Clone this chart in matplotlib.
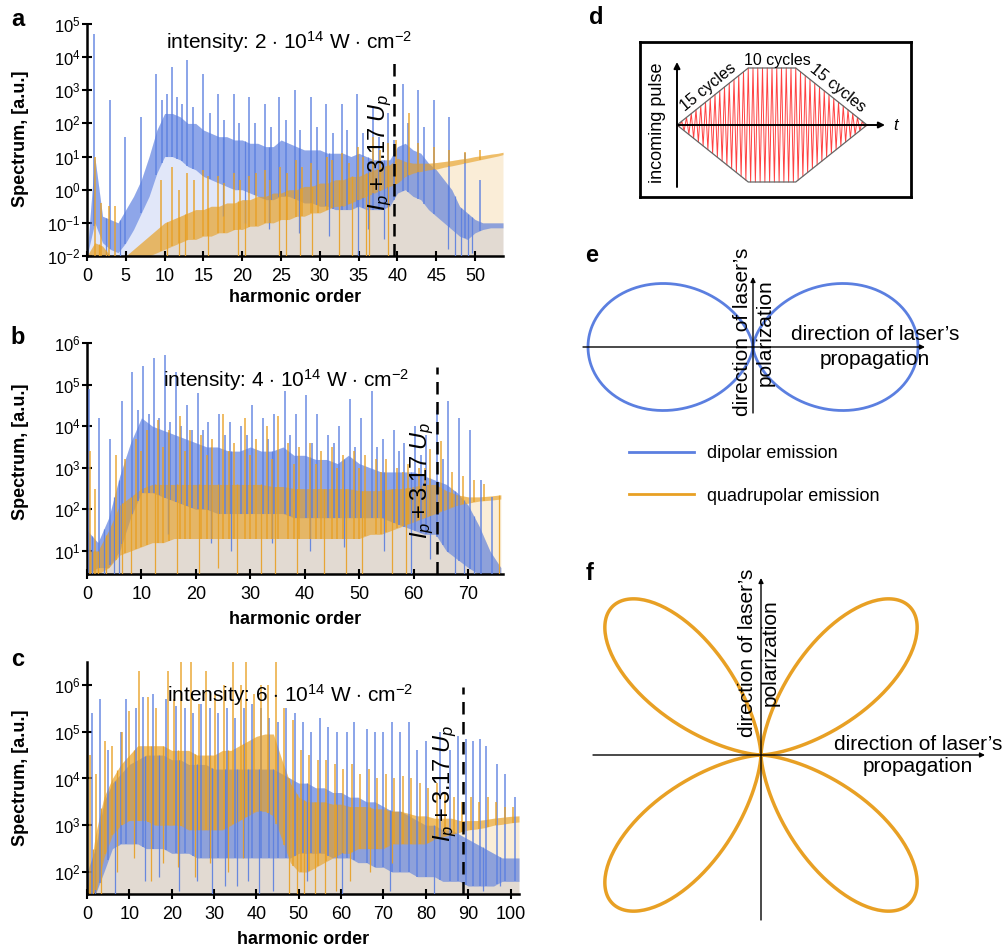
import numpy as np
import matplotlib
matplotlib.use('Agg')
import matplotlib.pyplot as plt
from matplotlib.ticker import FixedLocator, NullLocator, LogFormatterSciNotation
from matplotlib.lines import Line2D

plt.rcParams['font.family'] = ['Liberation Sans', 'DejaVu Sans']
plt.rcParams['mathtext.fontset'] = 'custom'
plt.rcParams['mathtext.rm'] = 'Liberation Sans'
plt.rcParams['mathtext.it'] = 'Liberation Sans:italic'
plt.rcParams['mathtext.bf'] = 'Liberation Sans:bold'

BLUE = '#5b7fe0'
ORANGE = '#e8a024'

# ---------------- DATA (log10 of spectrum) ----------------
# Panel a: 2e14 W/cm^2, harmonic grid step 1
a_orders = list(range(0, 54)) + [53.6]
a_blue_top = [-2.0, 1.0, -0.8, -0.9, -1.0, -0.6, -0.2, 0.3, 1.0, 1.8,
              2.3, 2.3, 2.2, 2.0, 2.0, 1.8, 1.7, 1.6, 1.6, 1.5,
              1.5, 1.4, 1.4, 1.3, 1.3, 1.5, 1.4, 1.3, 1.2, 1.2,
              1.2, 1.1, 1.1, 1.1, 1.0, 1.1, 1.0, 0.9, 0.9, 0.9,
              1.3, 1.4, 1.2, 1.1, 0.8, 0.6, 0.3, 0.0, -0.5, -0.7,
              -0.9, -1.0, -1.0, -1.0, -1.0]
a_blue_bot = [-2.0, -1.0, -1.6, -1.8, -1.9, -1.6, -1.2, -0.7, -0.2, 0.5,
              1.0, 1.0, 0.9, 0.7, 0.6, 0.4, 0.3, 0.2, 0.1, 0.0,
              0.0, -0.1, -0.2, -0.3, -0.3, -0.2, -0.2, -0.3, -0.4, -0.4,
              -0.5, -0.5, -0.6, -0.6, -0.6, -0.5, -0.6, -0.6, -0.6, -0.5,
              -0.1, 0.0, -0.2, -0.3, -0.6, -0.8, -1.0, -1.2, -1.4, -1.5,
              -1.3, -1.2, -1.15, -1.15, -1.15]
a_blue_peak_h = [0.9, 3.0, 4.9, 7.0, 8.9, 10.9, 12.9, 14.9, 16.9, 18.9, 20.9, 22.9,
                 24.8, 26.8, 28.8, 30.8, 32.8, 34.8, 36.8, 38.8, 40.7, 42.7, 44.7,
                 46.7, 48.7, 50.6,
                 9.6, 10.3, 11.6, 12.2, 13.6, 15.8, 17.7, 19.6, 21.6, 23.7, 25.6,
                 27.5, 29.6, 31.7, 33.5, 35.6, 37.6, 39.5, 41.4, 43.4]
a_blue_peak_v = [4.7, 2.7, 1.6, 2.2, 3.5, 3.7, 3.9, 3.5, 2.9, 2.9, 2.8, 2.6,
                 2.8, 3.0, 2.8, 2.6, 2.6, 2.9, 2.5, 2.3, 3.2, 3.0, 2.7,
                 2.2, 1.1, 0.3,
                 2.7, 2.9, 2.8, 2.6, 2.5, 2.3, 2.1, 2.0, 2.0, 1.9, 2.1,
                 1.8, 1.9, 1.7, 1.8, 1.7, 1.6, 1.5, 2.0, 1.9]
a_blue_dip_h = [2.5, 4.2, 17.5, 20.4, 23.5, 27.3, 31.2, 34.9, 36.2, 38.3, 46.5,
                47.4, 48.2, 49.1, 49.6]
a_blue_dip_v = [-2.0, -2.0, -0.8, -1.0, -1.2, -1.3, -1.4, -2.0, -1.2, -1.5, -1.8,
                -2.0, -2.0, -2.0, -1.9]
a_orng_top = [-2.0, -1.6, -1.7, -2.0, -2.0, -2.0, -1.8, -1.6, -1.4, -1.2,
              -1.0, -0.9, -0.8, -0.7, -0.6, -0.6, -0.5, -0.5, -0.4, -0.4,
              -0.3, -0.3, -0.2, -0.2, -0.1, -0.1, 0.0, 0.0, 0.1, 0.1,
              0.2, 0.2, 0.3, 0.3, 0.4, 0.4, 0.5, 0.6, 0.7, 0.75,
              0.95, 0.85, 0.8, 0.8, 0.8, 0.82, 0.85, 0.88, 0.92, 0.95,
              1.0, 1.03, 1.07, 1.1, 1.13]
a_orng_bot = [-2.0, -2.0, -2.0, -2.0, -2.0, -2.0, -2.0, -2.0, -2.0, -1.9,
              -1.8, -1.7, -1.6, -1.5, -1.5, -1.4, -1.4, -1.3, -1.3, -1.2,
              -1.2, -1.1, -1.1, -1.0, -1.0, -0.9, -0.9, -0.8, -0.8, -0.7,
              -0.7, -0.6, -0.5, -0.5, -0.4, -0.3, -0.2, -0.1, 0.0, 0.1,
              0.2, 0.4, 0.5, 0.55, 0.6, 0.62, 0.68, 0.72, 0.77, 0.82,
              0.87, 0.92, 0.97, 1.02, 1.06]
a_orng_peak_h = [1.0, 1.8, 2.8, 3.6, 9.5, 10.9, 12.9, 14.9, 16.9, 18.9, 20.9, 22.9,
                 24.9, 26.9, 28.9, 30.9, 32.9, 34.9, 36.9, 38.8, 41.5, 42.7, 44.7,
                 46.7, 48.7, 50.7,
                 11.8, 13.8, 15.6, 17.6, 19.7, 21.8, 23.6, 25.8, 27.7, 29.8, 31.6,
                 33.8, 35.6, 37.7, 39.8]
a_orng_peak_v = [1.0, -0.4, -0.5, -0.5, 0.3, 0.7, 0.5, 0.6, 0.4, 0.5, 0.4, 0.6,
                 0.7, 0.9, 0.8, 1.0, 1.1, 1.3, 1.6, 1.4, 2.3, 1.4, 1.3,
                 1.2, 1.15, 1.2,
                 0.0, 0.3, 0.4, 0.2, 0.3, 0.5, 0.3, 0.5, 0.7, 0.6, 0.9,
                 0.8, 1.0, 1.2, 1.5]
a_orng_dip_h = [1.5, 2.4, 3.2, 10.3, 11.8, 12.6, 15.6, 19.5, 20.3, 24.8, 25.6,
                27.4, 29.0, 32.5, 34.2, 36.0, 36.3, 38.8]
a_orng_dip_v = [-2.0, -2.0, -2.0, -2.0, -2.0, -2.0, -2.0, -2.0, -2.0, -2.0, -2.0,
                -2.0, -2.0, -2.0, -2.0, -2.0, -2.0, -2.0]

# Panel b: 4e14 W/cm^2, harmonic grid step 2
b_orders = list(range(0, 77, 2))
b_blue_top = [1.5, 1.2, 1.8, 2.8, 3.6, 4.2, 4.0, 3.9, 3.8, 3.7,
              3.6, 3.5, 3.5, 3.4, 3.4, 3.5, 3.4, 3.4, 3.5, 3.3,
              3.3, 3.2, 3.2, 3.1, 3.3, 3.1, 3.0, 2.9, 2.9, 2.9,
              2.9, 2.8, 2.7, 2.6, 2.4, 2.1, 1.6, 1.0, 0.6]
b_blue_bot = [0.44, 0.6, 0.6, 1.0, 1.8, 2.4, 2.4, 2.3, 2.2, 2.1,
              2.0, 2.0, 1.9, 1.9, 1.9, 1.9, 1.9, 1.9, 1.9, 1.8,
              1.8, 1.8, 1.8, 1.8, 1.8, 1.8, 1.8, 1.8, 1.7, 1.6,
              1.5, 1.4, 1.4, 1.0, 0.8, 0.6, 0.44, 0.44, 0.44]
b_blue_peak_h = [0.3, 2.2, 4.3, 6.4, 8.3, 10.3, 12.3, 14.3, 16.3, 18.3, 20.3, 22.3,
                 24.3, 26.3, 28.3, 30.3, 32.3, 34.3, 36.3, 38.3, 40.3, 42.3, 44.3,
                 46.3, 48.3, 50.3, 52.3, 54.3, 56.3, 58.3, 60.3, 62.3, 64.3, 66.3,
                 68.3, 70.3, 72.3, 74.3,
                 9.3, 11.3, 13.3, 15.3, 17.3, 19.3, 21.3, 25.3, 29.3, 33.3, 37.3,
                 41.3, 45.3, 49.3, 53.3, 57.3, 61.3, 65.3]
b_blue_peak_v = [4.9, 4.2, 3.7, 4.6, 5.3, 5.45, 5.65, 5.72, 5.3, 4.5, 4.8, 4.1,
                 4.3, 4.1, 4.0, 4.5, 4.2, 4.3, 4.85, 4.3, 4.75, 4.3, 3.8,
                 4.0, 4.65, 4.2, 4.85, 3.7, 3.9, 3.6, 4.0, 3.8, 4.4, 4.6,
                 4.2, 3.9, 2.7, 2.3,
                 4.4, 4.3, 4.2, 4.1, 4.0, 3.9, 3.9, 3.8, 3.8, 3.7, 3.8,
                 3.6, 3.6, 3.5, 3.5, 3.4, 3.3, 3.2]
b_blue_dip_h = [1.0, 3.1, 5.0, 5.8, 14.8, 22.7, 26.5, 33.9, 41.0, 47.2, 54.6,
                59.5, 63.0, 67.5, 69.2, 71.0]
b_blue_dip_v = [0.44, 0.44, 0.44, 0.44, 1.4, 1.2, 1.0, 1.2, 1.0, 1.1, 1.0,
                0.44, 0.8, 0.44, 0.44, 0.44]
b_orng_top = [1.0, 1.0, 1.5, 2.1, 2.3, 2.5, 2.6, 2.6, 2.6, 2.6,
              2.6, 2.6, 2.6, 2.6, 2.6, 2.6, 2.6, 2.55, 2.55, 2.5,
              2.5, 2.5, 2.5, 2.5, 2.5, 2.45, 2.45, 2.45, 2.5, 2.5,
              2.55, 2.6, 2.6, 2.45, 2.35, 2.3, 2.3, 2.32, 2.35]
b_orng_bot = [0.44, 0.44, 0.6, 0.9, 1.0, 1.1, 1.2, 1.2, 1.3, 1.3,
              1.3, 1.3, 1.3, 1.3, 1.3, 1.3, 1.3, 1.3, 1.3, 1.3,
              1.3, 1.3, 1.3, 1.3, 1.3, 1.3, 1.4, 1.4, 1.5, 1.6,
              1.7, 1.8, 1.9, 2.0, 2.1, 2.15, 2.2, 2.22, 2.25]
b_orng_peak_h = [0.5, 1.4, 5.3, 9.0, 11.0, 13.0, 15.0, 17.0, 19.0, 21.0, 23.0, 25.0,
                 27.0, 29.0, 31.0, 33.0, 35.0, 37.0, 39.0, 41.0, 43.0, 45.0, 47.0,
                 49.0, 51.0, 53.0, 55.0, 57.0, 59.0, 61.0, 63.0, 65.0, 67.0, 69.0,
                 71.0, 73.0,
                 7.0, 10.0, 14.0, 18.0, 22.0, 26.0, 30.0, 34.0, 38.0, 42.0, 46.0,
                 50.0, 54.0, 58.0, 62.0]
b_orng_peak_v = [3.4, 2.5, 3.3, 3.7, 3.9, 4.15, 3.9, 4.25, 3.9, 3.8, 3.7, 4.3,
                 3.6, 4.2, 3.7, 4.0, 4.25, 3.6, 3.5, 3.6, 3.4, 3.5, 3.3,
                 3.4, 3.3, 3.2, 3.2, 3.0, 3.1, 3.0, 3.45, 3.65, 2.9, 2.8,
                 2.7, 2.6,
                 3.2, 3.4, 3.5, 3.4, 3.3, 3.4, 3.3, 3.2, 3.1, 3.1, 3.0,
                 3.0, 2.9, 2.9, 3.0]
b_orng_dip_h = [2.0, 3.5, 6.5, 8.0, 12.5, 16.5, 20.5, 24.0, 27.5, 32.0, 34.5,
                38.5, 43.5, 47.5, 50.5, 56.0, 58.5, 75.6]
b_orng_dip_v = [0.44, 0.44, 0.44, 0.44, 0.44, 0.44, 0.44, 0.6, 0.44, 0.44, 0.44,
                0.44, 0.44, 0.44, 0.44, 0.44, 0.44, 0.44]

# Panel c: 6e14 W/cm^2, harmonic grid step 2
c_orders = list(range(0, 103, 2))
c_blue_top = [2.0, 2.5, 3.5, 3.9, 4.1, 4.3, 4.4, 4.5, 4.5, 4.5,
              4.4, 4.4, 4.3, 4.3, 4.3, 4.2, 4.2, 4.2, 4.2, 4.2,
              4.2, 4.2, 4.2, 4.1, 4.0, 3.9, 3.9, 3.8, 3.8, 3.7,
              3.7, 3.6, 3.6, 3.5, 3.5, 3.4, 3.3, 3.3, 3.2, 3.1,
              3.0, 3.0, 2.9, 2.9, 2.8, 2.7, 2.6, 2.5, 2.4, 2.3,
              2.3, 2.3]
c_blue_bot = [1.53, 1.53, 2.0, 2.5, 2.6, 2.6, 2.6, 2.5, 2.5, 2.5,
              2.4, 2.4, 2.4, 2.3, 2.3, 2.3, 2.3, 2.3, 2.3, 2.3,
              2.3, 2.3, 2.3, 2.3, 2.3, 2.4, 2.4, 2.4, 2.4, 2.3,
              2.3, 2.3, 2.2, 2.2, 2.1, 2.1, 2.0, 2.0, 2.0, 1.9,
              1.9, 1.9, 1.8, 1.8, 1.8, 1.7, 1.7, 1.7, 1.7, 1.8,
              1.8, 1.8]
c_blue_peak_h = [1.2, 3.0, 5.0, 8.1, 9.3, 11.5, 13.2, 15.6, 18.7, 21.1, 23.1, 25.0,
                 27.0, 29.0, 31.0, 33.0, 35.0, 37.0, 39.0, 41.0, 43.0, 45.0, 47.0,
                 49.0, 51.0, 53.0, 55.0, 57.0, 59.0, 61.3, 63.0, 66.0, 68.0, 70.0,
                 72.0, 74.0, 76.0, 78.0, 80.0, 83.3, 85.7, 87.5, 89.6, 91.2, 92.8,
                 94.3, 96.7, 98.7, 101.0]
c_blue_peak_v = [5.4, 5.7, 4.6, 5.0, 5.7, 5.5, 5.75, 5.8, 5.7, 5.55, 5.5, 5.4,
                 5.6, 5.5, 5.4, 5.5, 5.3, 5.5, 5.6, 5.5, 5.3, 5.2, 5.5,
                 5.4, 5.2, 5.0, 5.3, 5.1, 5.0, 5.0, 5.2, 5.05, 5.0, 5.0,
                 5.2, 5.0, 5.2, 4.6, 4.8, 5.0, 4.6, 4.9, 4.85, 4.8, 4.85,
                 4.7, 4.3, 4.1, 3.6]
c_blue_dip_h = [2.0, 6.5, 13.8, 17.0, 21.8, 26.0, 29.5, 32.5, 35.3, 38.0, 40.6,
                44.0, 52.0, 60.2, 71.5, 82.0, 93.5, 97.5]
c_blue_dip_v = [1.53, 1.53, 1.8, 1.9, 1.6, 1.8, 1.53, 1.7, 1.7, 1.8, 1.53,
                1.6, 1.8, 1.53, 1.6, 1.53, 1.6, 1.7]
c_orng_top = [1.53, 2.8, 3.6, 4.0, 4.3, 4.5, 4.7, 4.7, 4.7, 4.7,
              4.6, 4.6, 4.6, 4.5, 4.5, 4.5, 4.6, 4.6, 4.7, 4.8,
              4.9, 4.95, 4.95, 4.4, 3.9, 3.6, 3.5, 3.5, 3.5, 3.45,
              3.45, 3.4, 3.4, 3.4, 3.35, 3.35, 3.3, 3.3, 3.25, 3.2,
              3.2, 3.15, 3.15, 3.15, 3.1, 3.1, 3.1, 3.12, 3.15, 3.17,
              3.19, 3.2]
c_orng_bot = [1.53, 1.53, 2.3, 2.8, 3.0, 3.1, 3.1, 3.1, 3.0, 3.0,
              3.0, 3.0, 2.9, 2.9, 2.9, 2.9, 2.9, 3.0, 3.1, 3.2,
              3.3, 3.3, 3.2, 2.7, 2.2, 2.0, 2.0, 2.1, 2.2, 2.3,
              2.4, 2.4, 2.5, 2.5, 2.5, 2.5, 2.6, 2.6, 2.6, 2.6,
              2.6, 2.7, 2.75, 2.8, 2.85, 2.9, 2.92, 2.95, 3.0, 3.02,
              3.05, 3.07]
c_orng_peak_h = [0.8, 2.2, 4.3, 6.0, 8.3, 10.0, 12.3, 14.4, 16.3, 19.1, 20.5, 22.3,
                 24.5, 26.4, 28.2, 30.3, 32.3, 34.5, 36.3, 37.6, 39.5, 41.2, 42.7,
                 44.7, 46.5, 48.7, 50.5, 52.5, 54.5, 56.5, 58.5, 60.5, 62.5, 64.5,
                 66.5, 68.5, 70.5, 72.5, 74.6, 76.6, 78.6, 80.6, 82.6, 84.6, 86.6,
                 88.6, 90.6, 92.6, 94.6, 96.6, 98.6, 100.6]
c_orng_peak_v = [4.5, 4.1, 4.8, 4.7, 5.0, 5.45, 6.3, 5.75, 5.5, 6.3, 5.7, 6.5,
                 6.5, 5.6, 6.3, 5.8, 6.0, 6.5, 6.0, 6.5, 5.8, 6.0, 6.0,
                 6.5, 5.5, 5.25, 4.6, 4.5, 4.4, 4.4, 4.3, 4.2, 4.3, 4.1,
                 4.2, 4.0, 4.1, 4.0, 4.05, 4.0, 3.9, 3.8, 3.9, 3.7, 3.6,
                 3.5, 3.6, 3.5, 3.6, 3.5, 3.4, 3.4]
c_orng_dip_h = [1.5, 3.4, 7.2, 11.0, 15.2, 18.0, 21.5, 25.5, 29.0, 33.2, 36.8,
                47.6, 49.5, 51.3, 53.8, 56.2, 58.7, 62.0, 66.8, 72.0]
c_orng_dip_v = [1.53, 1.53, 2.0, 2.3, 1.8, 2.2, 2.1, 1.9, 2.2, 2.0, 2.3,
                1.53, 1.53, 1.53, 1.53, 1.53, 1.6, 1.8, 2.0, 2.2]

panel_titles = [r"intensity: 2 $\cdot$ 10$^{14}$ W $\cdot$ cm$^{-2}$",
                r"intensity: 4 $\cdot$ 10$^{14}$ W $\cdot$ cm$^{-2}$",
                r"intensity: 6 $\cdot$ 10$^{14}$ W $\cdot$ cm$^{-2}$"]
cutoffs = [39.6, 64.3, 88.7]
ytick_exps = [list(range(-2, 6)), list(range(1, 7)), list(range(2, 7))]
xtick_sets = [list(range(0, 51, 5)), list(range(0, 71, 10)), list(range(0, 101, 10))]

# Panel d: pulse envelope (cycles)
pulse_cycles = [15, 10, 15]
# Panel e/f legend labels
legend_labels = ['dipolar emission', 'quadrupolar emission']

# ---------------- FIGURE ----------------
W, H = 1006, 950
fig = plt.figure(figsize=(W / 100, H / 100), dpi=100)


def px_axes(x0, y0, x1, y1):
    return fig.add_axes([x0 / W, 1 - y1 / H, (x1 - x0) / W, (y1 - y0) / H])


def ftext(x, y, s, **kw):
    fig.text(x / W, 1 - y / H, s, **kw)


def draw_series(ax, h, top, bot, ph, pv, dh, dv, color, ybot):
    h = np.asarray(h, float)
    top = np.asarray(top, float)
    bot = np.asarray(bot, float)
    ax.fill_between(h, ybot, 10 ** top, color=color, alpha=0.18, lw=0, zorder=1)
    ax.fill_between(h, 10 ** bot, 10 ** top, color=color, alpha=0.62, lw=0, zorder=2)
    ph = np.asarray(ph, float)
    pv = np.asarray(pv, float)
    base = np.interp(ph, h, bot)
    ax.vlines(ph, 10 ** base, 10 ** pv, color=color, lw=1.1, alpha=0.9, zorder=3)
    dh = np.asarray(dh, float)
    dv = np.asarray(dv, float)
    dtop = np.interp(dh, h, top)
    ax.vlines(dh, 10 ** dv, 10 ** dtop, color=color, lw=0.9, alpha=0.9, zorder=3)


panels = [
    dict(box=(87, 24, 503, 256), xlim=(0, 53.6), ylim=(1e-2, 1e5),
         h=a_orders, bt=a_blue_top, bb=a_blue_bot, bph=a_blue_peak_h, bpv=a_blue_peak_v,
         bdh=a_blue_dip_h, bdv=a_blue_dip_v,
         ot=a_orng_top, ob=a_orng_bot, oph=a_orng_peak_h, opv=a_orng_peak_v,
         odh=a_orng_dip_h, odv=a_orng_dip_v,
         title_xy=(289, 42), cut_top=62, ip_xy=(380, 152), ylab_y=139, xlab=(295, 297),
         letter='a', letter_xy=(18, 20)),
    dict(box=(87, 343, 503, 574), xlim=(0, 76.4), ylim=(10 ** 0.447, 1e6),
         h=b_orders, bt=b_blue_top, bb=b_blue_bot, bph=b_blue_peak_h, bpv=b_blue_peak_v,
         bdh=b_blue_dip_h, bdv=b_blue_dip_v,
         ot=b_orng_top, ob=b_orng_bot, oph=b_orng_peak_h, opv=b_orng_peak_v,
         odh=b_orng_dip_h, odv=b_orng_dip_v,
         title_xy=(286, 380), cut_top=367, ip_xy=(422, 480), ylab_y=452, xlab=(295, 620),
         letter='b', letter_xy=(18, 337)),
    dict(box=(87, 662, 519, 894), xlim=(0, 102), ylim=(10 ** 1.53, 10 ** 6.49),
         h=c_orders, bt=c_blue_top, bb=c_blue_bot, bph=c_blue_peak_h, bpv=c_blue_peak_v,
         bdh=c_blue_dip_h, bdv=c_blue_dip_v,
         ot=c_orng_top, ob=c_orng_bot, oph=c_orng_peak_h, opv=c_orng_peak_v,
         odh=c_orng_dip_h, odv=c_orng_dip_v,
         title_xy=(290, 695), cut_top=687, ip_xy=(445, 783), ylab_y=778, xlab=(303, 940),
         letter='c', letter_xy=(18, 660)),
]

for i, p in enumerate(panels):
    x0, y0, x1, y1 = p['box']
    ax = px_axes(x0, y0, x1, y1)
    ax.set_yscale('log')
    ax.set_xlim(*p['xlim'])
    ax.set_ylim(*p['ylim'])
    ybot = p['ylim'][0]
    draw_series(ax, p['h'], p['bt'], p['bb'], p['bph'], p['bpv'], p['bdh'], p['bdv'], BLUE, ybot)
    draw_series(ax, p['h'], p['ot'], p['ob'], p['oph'], p['opv'], p['odh'], p['odv'], ORANGE, ybot)
    # cutoff dashed line
    ytop_frac = (y1 - p['cut_top']) / (y1 - y0)
    ax.axvline(cutoffs[i], ymin=0, ymax=ytop_frac, color='black', lw=1.8,
               dashes=(5, 3), zorder=5)
    for s in ['top', 'right']:
        ax.spines[s].set_visible(False)
    for s in ['left', 'bottom']:
        ax.spines[s].set_linewidth(1.8)
    ax.yaxis.set_major_locator(FixedLocator([10.0 ** e for e in ytick_exps[i]]))
    ax.yaxis.set_minor_locator(NullLocator())
    ax.yaxis.set_major_formatter(LogFormatterSciNotation())
    ax.xaxis.set_major_locator(FixedLocator(xtick_sets[i]))
    ax.tick_params(axis='both', direction='inout', length=7, width=1.5)
    ax.tick_params(axis='x', labelsize=13, pad=5)
    ax.tick_params(axis='y', labelsize=12, pad=1)
    ax.set_facecolor('none')

    ftext(*p['title_xy'], panel_titles[i], fontsize=15, ha='center', va='center')
    ftext(*p['ip_xy'], r"$I_p + 3.17\;U_p$", fontsize=17, rotation=90,
          ha='center', va='center')
    ftext(21, p['ylab_y'], 'Spectrum, [a.u.]', fontsize=13, fontweight='bold',
          rotation=90, ha='center', va='center')
    ftext(*p['xlab'], 'harmonic order', fontsize=13, fontweight='bold',
          ha='center', va='center')
    ftext(*p['letter_xy'], p['letter'], fontsize=17, fontweight='bold',
          ha='center', va='center')

# ---------------- Panel d ----------------
axd = px_axes(640, 42, 911, 197)
ox, sx = 677, 4.75   # pixel origin and px per cycle
oy, sy = 125, 57
axd.set_xlim((640 - ox) / sx, (911 - ox) / sx)
axd.set_ylim((oy - 197) / sy, (oy - 42) / sy)
for s in axd.spines.values():
    s.set_linewidth(2)
axd.set_xticks([])
axd.set_yticks([])
t_knots = np.cumsum([0] + pulse_cycles)
env_knots = [0, 1, 1, 0]
t_half = np.arange(0, t_knots[-1] + 0.25, 0.5)
env = np.interp(t_half, t_knots, env_knots)
sign = np.where(np.arange(len(t_half)) % 2 == 0, 1.0, -1.0)
axd.plot(t_half, env * sign, color='#ff2020', lw=0.7, alpha=0.85)
axd.plot(t_knots, env_knots, color='#666666', lw=0.9)
axd.plot(t_knots, [-v for v in env_knots], color='#666666', lw=0.9)
arrow_kw = dict(arrowstyle='-|>', lw=1.4, color='black', mutation_scale=9,
                shrinkA=0, shrinkB=0)
axd.annotate('', xy=(0, (oy - 62) / sy), xytext=(0, (oy - 187) / sy), arrowprops=arrow_kw)
axd.annotate('', xy=((885 - ox) / sx, 0), xytext=(0, 0), arrowprops=arrow_kw)
axd.text((893 - ox) / sx, 0, 't', fontstyle='italic', fontsize=12, ha='left', va='center')
axd.text(6.5, 0.667, '15 cycles', fontsize=11.5, rotation=39, ha='center', va='center',
         rotation_mode='anchor')
axd.text(33.9, 0.65, '15 cycles', fontsize=11.5, rotation=-39, ha='center', va='center',
         rotation_mode='anchor')
axd.text(21.05, 1.14, '10 cycles', fontsize=11.5, ha='center', va='center')
axd.text((657 - ox) / sx, (oy - 123) / sy, 'incoming pulse', fontsize=13, rotation=90,
         ha='center', va='center')
ftext(596, 18, 'd', fontsize=17, fontweight='bold', ha='center', va='center')

# ---------------- Panel e ----------------
axe = px_axes(575, 250, 1000, 420)
oxe, oye, se = 753, 347, 165
axe.set_xlim((575 - oxe) / se, (1000 - oxe) / se)
axe.set_ylim((oye - 420) / se, (oye - 250) / se)
axe.axis('off')
th = np.linspace(0, 2 * np.pi, 721)
r_dip = np.sin(th) ** 2
axe.plot(r_dip * np.sin(th), r_dip * np.cos(th), color=BLUE, lw=2, label=legend_labels[0])
arrow_kw2 = dict(arrowstyle='-|>', lw=1.0, color='black', mutation_scale=7,
                 shrinkA=0, shrinkB=0)
axe.annotate('', xy=((925 - oxe) / se, 0), xytext=((583 - oxe) / se, 0), arrowprops=arrow_kw2)
axe.annotate('', xy=(0, (oye - 277) / se), xytext=(0, (oye - 413) / se), arrowprops=arrow_kw2)
axe.text(0.003, 0.09, "direction of laser\u2019s\npolarization", fontsize=15, rotation=90,
         ha='center', va='center', multialignment='center', linespacing=1.25)
axe.text(0.74, 0.0, "direction of laser\u2019s\npropagation", fontsize=15,
         ha='center', va='center', multialignment='center', linespacing=1.35)
ftext(592, 255, 'e', fontsize=17, fontweight='bold', ha='center', va='center')

# ---------------- Panel f ----------------
axf = px_axes(585, 570, 1000, 930)
oxf, oyf, sf = 761, 755, 210
axf.set_xlim((585 - oxf) / sf, (1000 - oxf) / sf)
axf.set_ylim((oyf - 930) / sf, (oyf - 570) / sf)
axf.axis('off')
r_quad = np.sin(2 * th) ** 2
axf.plot(r_quad * np.cos(th), r_quad * np.sin(th), color=ORANGE, lw=2.5, label=legend_labels[1])
axf.annotate('', xy=((985 - oxf) / sf, 0), xytext=((593 - oxf) / sf, 0), arrowprops=arrow_kw2)
axf.annotate('', xy=(0, (oyf - 578) / sf), xytext=(0, (oyf - 920) / sf), arrowprops=arrow_kw2)
axf.text(-0.01, 0.486, "direction of laser\u2019s\npolarization", fontsize=15, rotation=90,
         ha='center', va='center', multialignment='center', linespacing=1.3)
axf.text(0.748, 0.0, "direction of laser\u2019s\npropagation", fontsize=15,
         ha='center', va='center', multialignment='center', linespacing=1.2)
ftext(590, 574, 'f', fontsize=17, fontweight='bold', ha='center', va='center')

# legend
leg_handles = [Line2D([], [], color=BLUE, lw=2), Line2D([], [], color=ORANGE, lw=2)]
fig.legend(leg_handles, legend_labels, loc='upper left',
           bbox_to_anchor=(613 / W, 1 - 429 / H), frameon=False, fontsize=13,
           handlelength=3.6, handletextpad=0.7, labelspacing=1.4)

fig.savefig('out.png', dpi=100)
